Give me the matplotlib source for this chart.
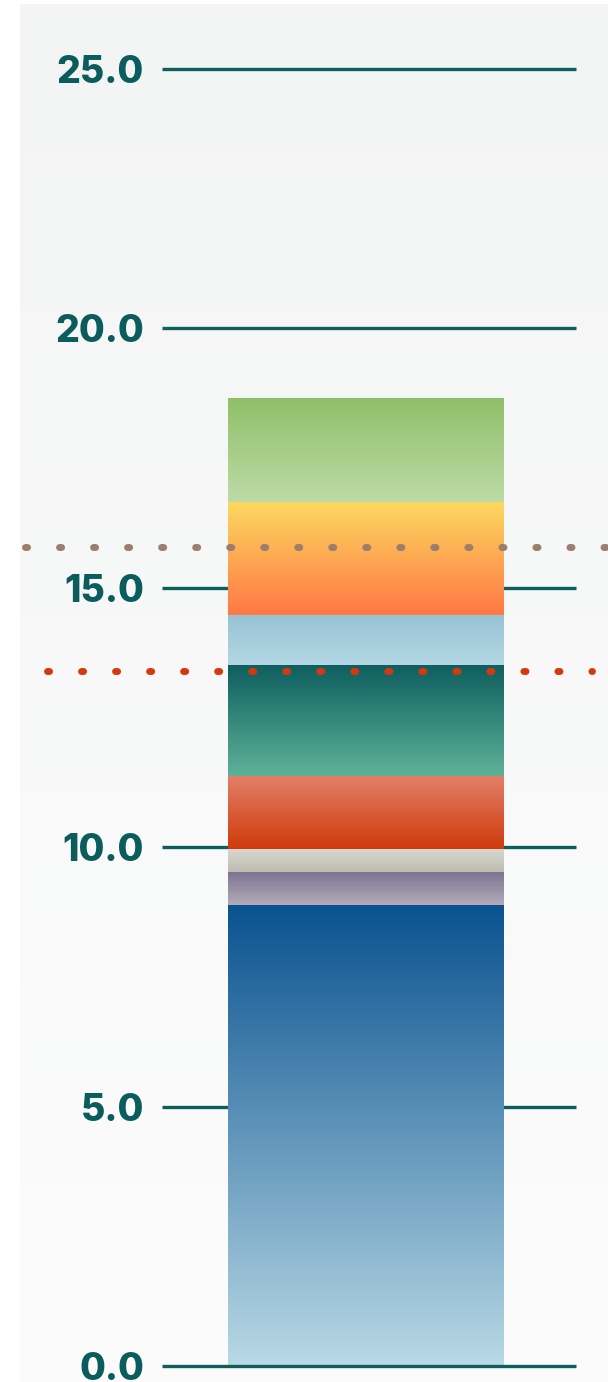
import numpy as np
import matplotlib
matplotlib.use("Agg")
import matplotlib.pyplot as plt
import matplotlib.transforms as mtransforms
from matplotlib.colors import LinearSegmentedColormap

# ---- data ----
segment_names = ["blue", "purple", "grey", "red", "teal", "lightblue", "orange", "green"]
segment_values = [8.89, 0.64, 0.44, 1.41, 2.14, 0.96, 2.17, 2.00]
segment_top_colors = ["#0a5290", "#7b7290", "#d8d8d0", "#e28068", "#0e5e5f", "#98c3d5", "#fcd960", "#8fbf69"]
segment_bottom_colors = ["#b9d9e5", "#b4acba", "#bcbcb0", "#cf3a0c", "#5eb198", "#b3d7e4", "#ff7845", "#bddba7"]
ref_values = [15.78, 13.40]
ref_colors = ["#9b7e6b", "#d4390d"]
ref_x_start = [20, 42]   # pixel start of reference lines
ref_x_end = [608, 592]
tick_values = [0, 5, 10, 15, 20, 25]
tick_labels = ["0.0", "5.0", "10.0", "15.0", "20.0", "25.0"]

W, H = 608, 1382
DPI = 100
fig = plt.figure(figsize=(W / DPI, H / DPI), dpi=DPI)
fig.patch.set_facecolor("white")

# background panel with subtle gradient
bg = fig.add_axes([20 / W, 0, 1 - 20 / W, (H - 4) / H], zorder=-10)
grad = np.linspace(0, 1, 2048).reshape(-1, 1)
bg_cmap = LinearSegmentedColormap.from_list("bg", ["#f3f5f4", "#fcfcfc"], N=2048)
bg.imshow(grad, aspect="auto", cmap=bg_cmap, extent=[0, 1, 0, 1], origin="upper",
          interpolation="bilinear")
bg.set_axis_off()

# main axes: x pixels 162..576, y=0 at pixel 1366
y0_px = 1366
px_per_unit = 51.88
ymax = 26
top_px = y0_px - ymax * px_per_unit
ax = fig.add_axes([162 / W, (H - y0_px) / H, (576 - 162) / W, (y0_px - top_px) / H])
ax.set_facecolor("none")
for s in ax.spines.values():
    s.set_visible(False)
ax.set_xticks([])
ax.set_yticks(tick_values)
ax.set_yticklabels(tick_labels)
ax.tick_params(axis="y", length=0, pad=13, labelsize=27, labelcolor="#0b5c5d")
for lab in ax.get_yticklabels():
    lab.set_fontfamily(["Inter", "DejaVu Sans"])
    lab.set_fontweight(800)

grid_color = "#0f5e5e"
for t in tick_values:
    ax.axhline(t, color=grid_color, lw=2.4, zorder=6 if t == 0 else 0,
               solid_capstyle="butt", clip_on=False)

# gradient stacked bar
bar_w = 0.8
bottom = 0.0
for v, ct, cb in zip(segment_values, segment_top_colors, segment_bottom_colors):
    cmap = LinearSegmentedColormap.from_list("seg", [cb, ct])
    g = np.linspace(0, 1, 256).reshape(-1, 1)
    ax.imshow(g, aspect="auto", cmap=cmap, origin="lower",
              extent=[-bar_w / 2, bar_w / 2, bottom, bottom + v], zorder=2,
              interpolation="bilinear")
    bottom += v
ax.set_xlim(-0.591, 0.609)
ax.set_ylim(0, ymax)

# dotted reference lines spanning beyond axes
trans = mtransforms.blended_transform_factory(fig.transFigure, ax.transData)
for yv, col, xs, xe in zip(ref_values, ref_colors, ref_x_start, ref_x_end):
    ax.plot([xs / W + 5 / W, xe / W], [yv, yv], transform=trans, color=col,
            lw=5.0, linestyle=(0, (0.3, 4.6)), dash_capstyle="round",
            clip_on=False, zorder=8)

fig.savefig("out.png", dpi=DPI, facecolor=fig.get_facecolor())
